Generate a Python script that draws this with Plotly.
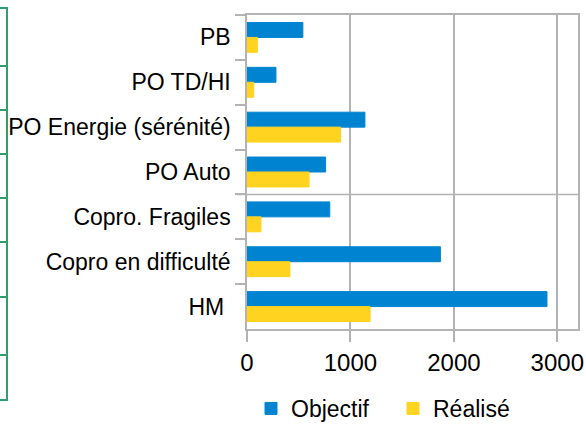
import plotly.graph_objects as go

categories = ["PB", "PO TD/HI", "PO Energie (sérénité)", "PO Auto",
              "Copro. Fragiles", "Copro en difficulté", "HM\u00a0"]
objectif = [540, 280, 1140, 760, 800, 1870, 2900]
realise = [100, 65, 905, 600, 135, 415, 1190]
x_ticks = [0, 1000, 2000, 3000]

W, H = 586, 425
L, R, T, B = 247, 578, 15, 329
FONT = "Liberation Sans, Arial, sans-serif"
GRID = "#b3b3b3"
GREEN = "#2f9e6c"

def px(x):
    return (x - L) / (R - L)

def py(y):
    return (B - y) / (B - T)

fig = go.Figure()
fig.add_trace(go.Bar(y=categories, x=objectif, name="Objectif", orientation="h",
                     marker=dict(color="#0084d1", line=dict(width=1, color="#0084d1"))))
fig.add_trace(go.Bar(y=categories, x=realise, name="Réalisé", orientation="h",
                     marker=dict(color="#ffd320", line=dict(width=1, color="#ffd320"))))

shapes = []
# horizontal line through the chart
shapes.append(dict(type="line", xref="paper", yref="y", x0=px(237), x1=1, y0=3.5, y1=3.5,
                   line=dict(color=GRID, width=1.5), layer="below"))
# green spreadsheet border at far left
shapes.append(dict(type="line", xref="paper", yref="paper", x0=px(7), x1=px(7),
                   y0=py(8), y1=py(401), line=dict(color=GREEN, width=2)))
for yy in [8, 66, 110, 154, 198, 242, 297, 355, 400]:
    shapes.append(dict(type="line", xref="paper", yref="paper", x0=px(-2), x1=px(8),
                       y0=py(yy), y1=py(yy), line=dict(color=GREEN, width=2)))

fig.update_layout(
    width=W, height=H,
    margin=dict(l=L, r=W - R, t=T, b=H - B, pad=0, autoexpand=False),
    paper_bgcolor="white", plot_bgcolor="white",
    barmode="group", bargap=1/3, bargroupgap=0,
    font=dict(family=FONT, size=23, color="black"),
    showlegend=True,
    legend=dict(orientation="h", x=px(251), xanchor="left", y=py(387), yanchor="top",
                font=dict(size=23), entrywidth=97, itemclick=False,
                bgcolor="rgba(0,0,0,0)", tracegroupgap=0),
    shapes=shapes,
    xaxis=dict(range=[0, 3200], tickvals=x_ticks, ticks="outside", ticklen=11,
               tickcolor=GRID, tickwidth=1.5, showgrid=True, gridcolor=GRID, gridwidth=1.5,
               showline=True, linecolor=GRID, linewidth=1.5, mirror=True,
               zeroline=False, tickfont=dict(size=24), fixedrange=True, automargin=False),
    yaxis=dict(categoryorder="array", categoryarray=categories, autorange="reversed",
               ticks="outside", ticklen=10, tickcolor=GRID, tickwidth=1.5,
               tickson="boundaries", showgrid=False,
               showline=True, linecolor=GRID, linewidth=1.5, mirror=True,
               zeroline=False, ticklabelstandoff=10, tickfont=dict(size=23), fixedrange=True,
               automargin=False),
)

fig.write_html("out.html", config={"displayModeBar": False},
               post_script="document.body.style.margin='0px';document.body.style.overflow='hidden';")
